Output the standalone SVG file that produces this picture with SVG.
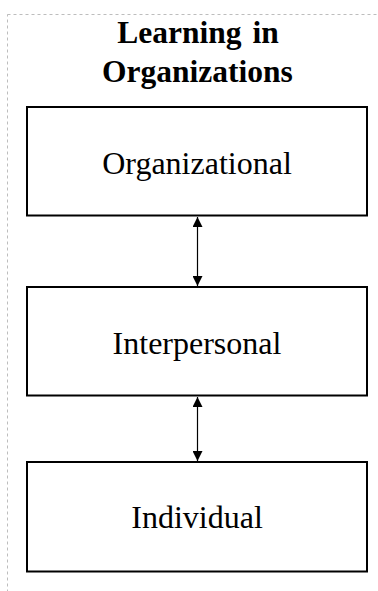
<svg xmlns="http://www.w3.org/2000/svg" width="378" height="591" viewBox="0 0 378 591">
<style>
.frame{fill:none;stroke:#bdbdbd;stroke-width:1;stroke-dasharray:3,3}
.box{fill:#fff;stroke:#000;stroke-width:2}
.lbl{font-family:"Liberation Serif","Times New Roman",serif;font-size:32px;fill:#000;text-anchor:middle}
.title{font-family:"Liberation Serif","Times New Roman",serif;font-size:31.5px;font-weight:bold;fill:#000;text-anchor:middle}
.conn{stroke:#000;stroke-width:1.2;fill:none}
</style>
<defs>
<marker id="ah" viewBox="0 0 10 10" refX="10" refY="5" markerWidth="10" markerHeight="10" markerUnits="userSpaceOnUse" orient="auto-start-reverse">
<path d="M0,0 L10,5 L0,10 Z" fill="#000"/>
</marker>
</defs>
<rect class="frame" x="7.5" y="14.5" width="400" height="600"/>
<g id="title">
<text class="title" x="198" y="43" word-spacing="3">Learning in</text>
<text class="title" x="197.5" y="82">Organizations</text>
</g>
<g id="organizational">
<rect class="box" x="27" y="107" width="340" height="108.5"/>
<text class="lbl" x="197" y="174">Organizational</text>
</g>
<g id="interpersonal">
<rect class="box" x="27" y="287" width="340" height="108.5"/>
<text class="lbl" x="197" y="354">Interpersonal</text>
</g>
<g id="individual">
<rect class="box" x="27" y="462" width="340" height="109.5"/>
<text class="lbl" x="197" y="528">Individual</text>
</g>
<g id="connectors">
<line class="conn" x1="197.5" y1="217" x2="197.5" y2="286" marker-start="url(#ah)" marker-end="url(#ah)"/>
<line class="conn" x1="197.5" y1="397" x2="197.5" y2="461" marker-start="url(#ah)" marker-end="url(#ah)"/>
</g>
</svg>
